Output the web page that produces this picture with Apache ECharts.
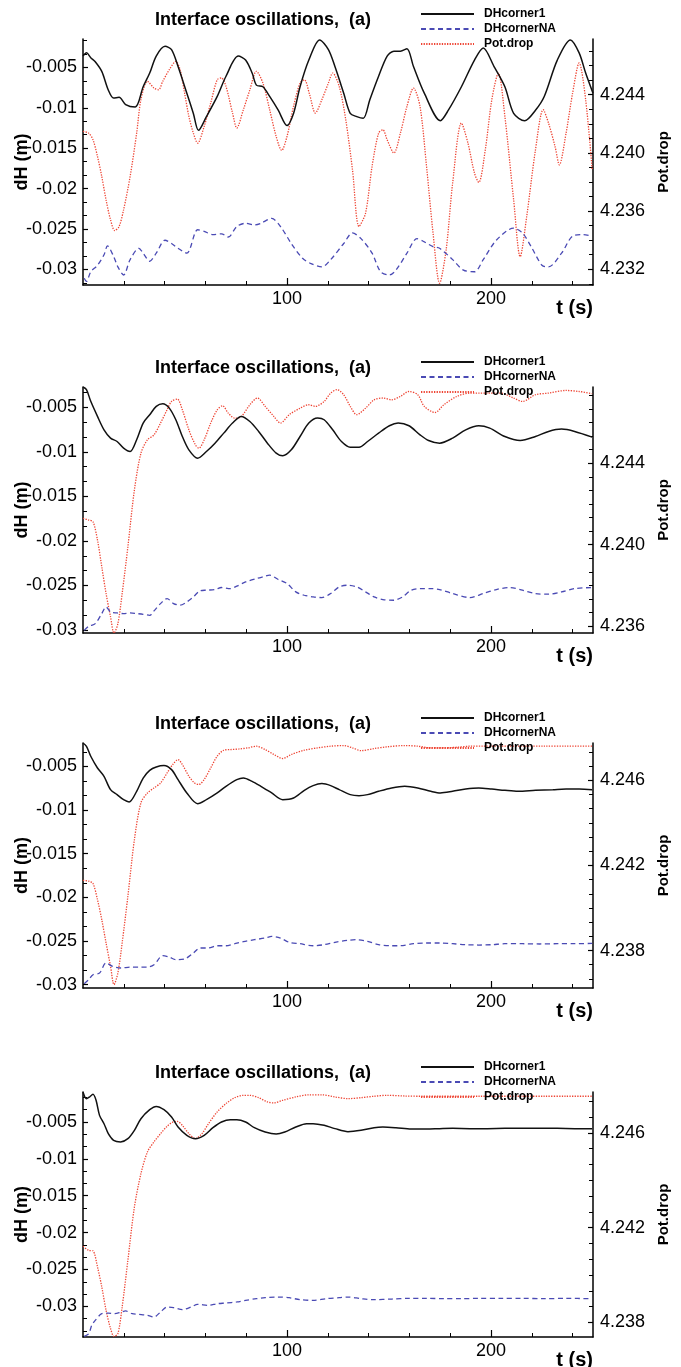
<!DOCTYPE html>
<html>
<head>
<meta charset="utf-8">
<script src="https://cdn.jsdelivr.net/npm/echarts@6/dist/echarts.min.js"></script>
<style>
html,body{margin:0;padding:0;background:#fff;}
#chart{width:681px;height:1367px;}
</style>
</head>
<body>
<div id="chart"></div>
<script>
// ---------------- DATA ----------------
const seriesNames = ['DHcorner1', 'DHcornerNA', 'Pot.drop'];
const titleText = 'Interface oscillations,  (a)';
const xMajorTicks = [100, 200];
const xMinorTicks = [20, 40, 60, 80, 120, 140, 160, 180, 220, 240];
const leftTickLabels = [-0.005, -0.01, -0.015, -0.02, -0.025, -0.03];
const p1RightLabels = [4.232, 4.236, 4.240, 4.244];
const p2RightLabels = [4.236, 4.240, 4.244];
const p3RightLabels = [4.238, 4.242, 4.246];
const p4RightLabels = [4.238, 4.242, 4.246];

// axis ranges [min, max]
const p1Left = [-0.03194, -0.00149], p1Right = [4.23092, 4.24783];
const p2Left = [-0.03034, -0.00271], p2Right = [4.23567, 4.24774];
const p3Left = [-0.03038, -0.00233], p3Right = [4.23624, 4.24775];
const p4Left = [-0.03416, -0.00093], p4Right = [4.23738, 4.24773];

// Panel 1
const p1Black = [[0,-0.0036],[1.7,-0.0032],[3.8,-0.0038],[6,-0.0043],[9.2,-0.0055],[12.4,-0.0078],[15,-0.0088],[17.7,-0.0087],[20.9,-0.0096],[25.6,-0.0099],[29.5,-0.0074],[32.7,-0.0057],[35.9,-0.0036],[40.2,-0.0024],[43.4,-0.0028],[46.6,-0.0049],[50.9,-0.0082],[54.1,-0.0107],[56.6,-0.0128],[60.5,-0.0111],[65.8,-0.0086],[70.1,-0.0061],[76.1,-0.0036],[79.7,-0.0041],[82.9,-0.0057],[85,-0.0072],[88.2,-0.0074],[91.5,-0.0086],[95.7,-0.0103],[100,-0.0122],[103.2,-0.0107],[106.4,-0.0074],[110.7,-0.0041],[116,-0.0016],[120.3,-0.0028],[123.5,-0.0049],[127.8,-0.0082],[131,-0.0107],[134.2,-0.0111],[137.4,-0.0113],[140.6,-0.009],[144.9,-0.0061],[149.1,-0.0036],[152.4,-0.003],[155.6,-0.003],[158.8,-0.0027],[162,-0.0049],[167.3,-0.0082],[175.2,-0.0116],[179.1,-0.0103],[185.5,-0.0074],[191.9,-0.0041],[196.2,-0.0026],[201.5,-0.0049],[206.8,-0.0074],[211.1,-0.0107],[216.5,-0.0116],[221.8,-0.0103],[226.1,-0.0086],[232.5,-0.0041],[238.9,-0.0016],[243.2,-0.0032],[246.4,-0.0057],[250,-0.0082]];
const p1Blue = [[0.6,-0.0311],[1.7,-0.0315],[3.8,-0.0303],[7.1,-0.0295],[10.3,-0.0282],[12,-0.0271],[15,-0.0284],[17.1,-0.0297],[19.9,-0.0307],[23.1,-0.0288],[27.4,-0.0274],[29.5,-0.028],[32.7,-0.029],[35.9,-0.028],[40.2,-0.0264],[43.4,-0.0268],[46.6,-0.0274],[50.9,-0.028],[56.2,-0.0251],[59.4,-0.0253],[63.7,-0.0257],[67.9,-0.0256],[71.2,-0.026],[75.4,-0.0247],[79.7,-0.0243],[84,-0.0245],[87.2,-0.0243],[92.5,-0.0237],[96.8,-0.0247],[102.1,-0.0268],[107.5,-0.0286],[111.8,-0.0293],[117.1,-0.0297],[121.4,-0.0288],[127.8,-0.0268],[132.1,-0.0255],[136.3,-0.0262],[141.7,-0.028],[145.9,-0.0303],[150.2,-0.0307],[153.4,-0.0301],[158.8,-0.028],[163.7,-0.0262],[167.3,-0.0266],[171.6,-0.0272],[174.8,-0.0274],[181.2,-0.0288],[186.5,-0.0301],[191.9,-0.0303],[196.2,-0.0288],[202.6,-0.0264],[211.1,-0.0249],[215.4,-0.0255],[219.7,-0.0272],[225,-0.0295],[228.2,-0.0297],[234.6,-0.028],[240,-0.0259],[245.3,-0.0257],[249.6,-0.0259]];
const p1Red = [[0,4.24148],[2.8,4.24136],[4.9,4.2409],[7.1,4.23976],[9.2,4.23838],[11.3,4.23677],[13.5,4.2354],[15.6,4.23466],[17.7,4.23494],[19.9,4.23609],[23.1,4.23838],[26.3,4.24136],[28.4,4.24366],[31.6,4.24492],[34.8,4.24446],[37,4.24434],[39.1,4.24492],[42.3,4.24572],[45.5,4.24629],[47.6,4.24572],[49.8,4.24411],[51.9,4.24251],[54.1,4.24136],[56.2,4.24067],[59.4,4.24182],[62.6,4.24343],[65.8,4.24503],[67.9,4.24515],[70.1,4.24457],[73.3,4.24274],[75.4,4.24171],[78.6,4.24297],[81.8,4.24434],[85,4.24561],[88.2,4.2448],[91.5,4.24297],[94.7,4.24113],[97.4,4.24017],[100,4.24113],[103.2,4.2432],[106.4,4.2448],[108.5,4.24503],[111.1,4.244],[113.9,4.24274],[117.1,4.24366],[120.3,4.2448],[122.4,4.24549],[125.6,4.24457],[128.8,4.24228],[132.1,4.23884],[135.3,4.23494],[138.5,4.23586],[141.7,4.23907],[144.9,4.24136],[147,4.24159],[149.1,4.2409],[152.4,4.23999],[155.6,4.24136],[158.8,4.2432],[162,4.24446],[165.2,4.2432],[168.4,4.23907],[171.6,4.23448],[174.8,4.23104],[178,4.23333],[181.2,4.23792],[185.5,4.24205],[188.7,4.24067],[191.9,4.23861],[194,4.23797],[197.2,4.24021],[200.4,4.24366],[203.6,4.24549],[206.8,4.24251],[211.1,4.23677],[214.3,4.23287],[217.5,4.23563],[221.8,4.24021],[225.6,4.24297],[228.2,4.24205],[231.4,4.24044],[233.5,4.23918],[236.8,4.24136],[240,4.24411],[243.2,4.24618],[246.4,4.24366],[249.6,4.23884]];

// Panel 2
const p2Black = [[0,-0.00271],[1.7,-0.00301],[3.8,-0.00432],[7.1,-0.00601],[10.3,-0.00752],[13.5,-0.00845],[16.7,-0.00883],[19.9,-0.00958],[23.1,-0.00996],[26.3,-0.00864],[29.5,-0.00676],[32.7,-0.00583],[35.9,-0.00489],[39.1,-0.00459],[42.3,-0.00508],[45.5,-0.00639],[48.7,-0.00827],[51.9,-0.00977],[56.2,-0.01071],[60.5,-0.00996],[64.7,-0.00902],[69,-0.00789],[73.3,-0.00676],[77.6,-0.00601],[81.8,-0.00658],[86.1,-0.0077],[90.4,-0.00902],[94.7,-0.01014],[97.9,-0.01044],[102.1,-0.00977],[106.4,-0.00827],[110.7,-0.00676],[115,-0.0062],[118.2,-0.00639],[122.4,-0.00752],[126.7,-0.00883],[131,-0.00947],[135.3,-0.00947],[139.5,-0.00883],[144.9,-0.00789],[150.2,-0.00706],[154.5,-0.00676],[159.8,-0.00706],[165.2,-0.00808],[169.4,-0.00872],[174.8,-0.00902],[181.2,-0.00845],[187.6,-0.00752],[194,-0.00706],[199.4,-0.00733],[206.8,-0.00827],[214.3,-0.00872],[221.8,-0.00827],[228.2,-0.0077],[234.6,-0.00744],[241,-0.0077],[249.6,-0.00834]];
const p2Blue = [[0.6,-0.03004],[2.8,-0.02959],[6,-0.02929],[9.2,-0.02816],[11.3,-0.02741],[13.5,-0.02797],[16.7,-0.02809],[19.9,-0.02816],[23.1,-0.02809],[26.3,-0.02816],[29.5,-0.02824],[32.7,-0.02835],[34.8,-0.02786],[38,-0.02704],[41.2,-0.02647],[44.4,-0.02704],[47.6,-0.02722],[50.9,-0.02685],[54.1,-0.02629],[57.3,-0.02561],[60.5,-0.02553],[64.7,-0.02546],[67.9,-0.02523],[72.2,-0.02535],[75.4,-0.02508],[79.7,-0.0246],[85,-0.02422],[88.2,-0.02403],[91.5,-0.02385],[95.7,-0.02433],[100,-0.02478],[104.3,-0.02572],[108.5,-0.0261],[112.8,-0.02629],[117.1,-0.02636],[121.4,-0.02591],[125.6,-0.02516],[129.9,-0.02497],[134.2,-0.02516],[138.5,-0.02572],[142.7,-0.02629],[147,-0.02659],[152.4,-0.02666],[156.6,-0.02629],[160.9,-0.02553],[165.2,-0.02535],[170.5,-0.02535],[174.8,-0.02546],[181.2,-0.02591],[189.7,-0.02636],[196.2,-0.02591],[202.6,-0.02546],[209,-0.02523],[215.4,-0.02553],[221.8,-0.02591],[228.2,-0.02598],[234.6,-0.02572],[241,-0.02535],[249.6,-0.02523]];
const p2Red = [[0,4.2413],[2.8,4.24121],[4.9,4.24113],[7.1,4.24023],[9.2,4.23892],[11.3,4.23761],[13.5,4.23646],[15.2,4.23567],[17.1,4.23613],[19.2,4.23761],[22,4.2399],[25.2,4.24269],[28.4,4.24449],[31.6,4.24515],[34.8,4.24539],[38,4.24597],[41.2,4.24662],[43.4,4.24703],[46.2,4.24715],[48.7,4.24662],[51.9,4.24564],[55.1,4.2449],[56.8,4.24474],[59.4,4.24515],[62.6,4.24597],[65.8,4.24662],[68.4,4.24682],[71.2,4.24646],[74.4,4.24621],[77.6,4.24629],[81.8,4.24687],[85.5,4.2472],[89.3,4.24679],[93.6,4.24629],[96.8,4.24597],[101.1,4.24638],[106.4,4.2467],[110.7,4.24687],[113.9,4.24679],[118.2,4.24703],[121.4,4.24744],[124.6,4.24761],[127.8,4.24736],[131,4.24679],[134.2,4.24638],[138.5,4.2467],[142.7,4.24711],[147,4.2472],[151.3,4.24711],[155.6,4.24728],[159.8,4.24752],[164.1,4.24736],[167.3,4.24679],[172.6,4.24649],[176.9,4.24687],[183.3,4.24728],[189.7,4.24744],[194,4.24744],[198.3,4.24744],[204.7,4.24744],[211.1,4.2472],[215.4,4.24703],[221.8,4.24736],[228.2,4.24744],[236.8,4.24757],[243.2,4.24752],[249.6,4.24741]];

// Panel 3
const p3Black = [[0,-0.00233],[1.7,-0.00271],[3.8,-0.00385],[7.1,-0.00519],[10.3,-0.00615],[13.5,-0.00767],[16.7,-0.00824],[19.9,-0.00882],[22.6,-0.00908],[26.3,-0.00786],[29.5,-0.00634],[32.7,-0.00546],[35.9,-0.00508],[39.7,-0.00492],[43.4,-0.00538],[46.6,-0.00653],[50.9,-0.00805],[56.2,-0.00928],[60.5,-0.00882],[65.8,-0.00805],[70.1,-0.00729],[75.4,-0.00653],[78.6,-0.00634],[82.9,-0.00672],[87.2,-0.00729],[92.5,-0.00805],[97.9,-0.00882],[103.2,-0.00863],[108.5,-0.00775],[112.8,-0.00721],[117.1,-0.00698],[121.4,-0.00721],[125.6,-0.00767],[131,-0.00824],[135.3,-0.00836],[139.5,-0.00824],[144.9,-0.00786],[151.3,-0.00748],[157.7,-0.00729],[164.1,-0.00748],[170.5,-0.00786],[175.2,-0.00805],[181.2,-0.00786],[187.6,-0.0076],[194,-0.00748],[200.4,-0.0076],[206.8,-0.00775],[213.2,-0.00786],[221.8,-0.00775],[230.3,-0.00767],[236.8,-0.0076],[243.2,-0.0076],[249.6,-0.00767]];
const p3Blue = [[0.6,-0.02989],[2.8,-0.02943],[4.9,-0.02886],[8.1,-0.02867],[11.3,-0.02752],[14.5,-0.0279],[18.8,-0.02809],[23.1,-0.02798],[27.4,-0.02798],[31.6,-0.02798],[34.8,-0.02771],[39.1,-0.02668],[42.3,-0.02683],[45.5,-0.02714],[49.8,-0.02706],[54.1,-0.02638],[57.3,-0.0258],[61.5,-0.0258],[65.8,-0.02554],[70.1,-0.02554],[74.4,-0.02531],[78.6,-0.02508],[84,-0.02485],[89.3,-0.02466],[92.5,-0.02447],[96.8,-0.02466],[101.1,-0.02515],[106.4,-0.02531],[112.8,-0.02554],[118.2,-0.02542],[123.5,-0.02515],[129.9,-0.02492],[134.2,-0.02485],[139.5,-0.02504],[144.9,-0.02542],[151.3,-0.02554],[155.6,-0.02554],[162,-0.02531],[168.4,-0.02523],[174.8,-0.02523],[181.2,-0.02531],[187.6,-0.02542],[194,-0.02546],[200.4,-0.02542],[206.8,-0.02531],[215.4,-0.02531],[223.9,-0.02534],[232.5,-0.02531],[241,-0.02531],[249.6,-0.02527]];
const p3Red = [[0,4.2413],[2.8,4.24126],[4.9,4.24115],[7.1,4.24039],[9.2,4.23945],[11.3,4.23836],[13.5,4.23726],[15.2,4.2364],[17.1,4.23695],[19.2,4.23836],[22,4.24055],[25.2,4.24321],[28.4,4.24494],[31.6,4.2454],[34.8,4.24564],[38,4.24587],[41.2,4.24634],[44,4.24674],[46.6,4.24697],[48.7,4.24674],[51.9,4.24619],[54.7,4.24587],[56.8,4.2458],[59.4,4.24603],[62.6,4.24658],[65.8,4.24713],[69,4.24741],[72.2,4.24744],[76.5,4.24747],[80.8,4.24752],[85,4.2476],[89.3,4.24744],[93.6,4.24721],[97.9,4.24702],[102.1,4.24721],[108.5,4.24741],[115,4.24752],[121.4,4.2476],[127.8,4.24763],[132.1,4.24752],[136.3,4.24739],[142.7,4.24749],[149.1,4.24757],[157.7,4.24763],[164.1,4.2476],[170.5,4.24752],[176.9,4.24752],[183.3,4.24755],[189.7,4.2476],[196.2,4.2476],[204.7,4.2476],[215.4,4.2476],[226.1,4.2476],[236.8,4.2476],[249.6,4.2476]];

// Panel 4
const p4Black = [[0,-0.00093],[1.7,-0.00184],[3.2,-0.00161],[4.9,-0.00125],[6.4,-0.00206],[8.1,-0.0041],[10.3,-0.00523],[12.4,-0.00658],[15,-0.00749],[18.4,-0.00771],[22,-0.00726],[25.2,-0.00613],[28.4,-0.00455],[32.7,-0.00333],[35.9,-0.00288],[39.7,-0.00333],[43.4,-0.00432],[46.6,-0.00568],[50.9,-0.00681],[55.1,-0.00726],[59.4,-0.00681],[63.7,-0.00577],[67.9,-0.005],[72.2,-0.00468],[75.4,-0.00468],[79.7,-0.005],[84,-0.00577],[89.3,-0.00636],[94.7,-0.00663],[98.9,-0.00636],[104.3,-0.00568],[109.6,-0.00523],[112.8,-0.00523],[118.2,-0.00545],[123.5,-0.0059],[129.9,-0.00631],[136.3,-0.00613],[142.7,-0.00577],[147,-0.00568],[153.4,-0.00577],[160.9,-0.00595],[168.4,-0.00595],[174.8,-0.0059],[181.2,-0.00586],[189.7,-0.0059],[198.3,-0.0059],[206.8,-0.00586],[215.4,-0.00586],[223.9,-0.00586],[232.5,-0.00586],[241,-0.0059],[249.6,-0.0059]];
const p4Blue = [[0.6,-0.03407],[2.8,-0.03371],[4.3,-0.03258],[6,-0.0319],[9.2,-0.031],[12.4,-0.03091],[15.6,-0.031],[18.8,-0.03077],[20.9,-0.03063],[24.1,-0.031],[27.4,-0.03109],[31.6,-0.03122],[34.8,-0.03145],[38,-0.03077],[41.2,-0.03009],[44.4,-0.03018],[48.7,-0.03045],[53,-0.03009],[56.2,-0.02973],[61.5,-0.02987],[65.8,-0.02964],[70.1,-0.02955],[75.4,-0.02941],[79.7,-0.02919],[85,-0.02896],[89.3,-0.02883],[95.7,-0.02874],[101.1,-0.02883],[106.4,-0.0291],[112.8,-0.02919],[119.2,-0.02896],[125.6,-0.02883],[129.9,-0.02874],[136.3,-0.02896],[142.7,-0.0291],[151.3,-0.02901],[159.8,-0.02892],[168.4,-0.02892],[176.9,-0.02896],[185.5,-0.02896],[194,-0.02892],[204.7,-0.02892],[215.4,-0.02892],[226.1,-0.02896],[236.8,-0.02892],[249.6,-0.02896]];
const p4Red = [[0,4.24121],[2.8,4.24104],[4.9,4.24102],[7.1,4.24034],[9.2,4.2395],[11.3,4.23851],[13.5,4.23774],[15.2,4.23741],[17.1,4.23752],[19.2,4.23865],[22,4.24062],[25.2,4.24287],[28.4,4.24428],[31.6,4.2452],[34.8,4.24562],[38,4.24597],[41.2,4.24628],[44,4.24646],[46.2,4.24649],[48.7,4.24632],[51.9,4.24597],[55.1,4.24576],[58.3,4.24597],[61.5,4.24639],[65.8,4.24689],[70.1,4.24724],[74.4,4.24749],[78.6,4.24759],[81.8,4.24759],[86.1,4.24749],[90.4,4.24731],[93.6,4.24727],[97.9,4.24738],[104.3,4.24752],[110.7,4.24761],[117.1,4.24761],[123.5,4.24752],[129.9,4.24745],[136.3,4.24749],[142.7,4.24755],[149.1,4.24759],[157.7,4.24756],[166.2,4.24755],[174.8,4.24755],[183.3,4.24755],[194,4.24755],[204.7,4.24755],[215.4,4.24755],[226.1,4.24755],[236.8,4.24755],[249.6,4.24755]];

// ---------------- CHART ----------------
const panels = [
  {black:p1Black, blue:p1Blue, red:p1Red, left:p1Left, right:p1Right, rLabels:p1RightLabels, rStep:0.001},
  {black:p2Black, blue:p2Blue, red:p2Red, left:p2Left, right:p2Right, rLabels:p2RightLabels, rStep:0.002/3},
  {black:p3Black, blue:p3Blue, red:p3Red, left:p3Left, right:p3Right, rLabels:p3RightLabels, rStep:0.002/3},
  {black:p4Black, blue:p4Blue, red:p4Red, left:p4Left, right:p4Right, rLabels:p4RightLabels, rStep:0.002/3}
];
const layout = [
  {top:39, height:246},
  {top:387, height:246},
  {top:743, height:245},
  {top:1092, height:245}
];
const PLOT_LEFT = 83, PLOT_RIGHT_EDGE = 593, W = 681;
const FONT = '"Liberation Sans", Arial, sans-serif';

function ticksBetween(range, step, base) {
  const out = [];
  for (let k = -200; k <= 200; k++) {
    const v = +(base + k * step).toFixed(7);
    if (v > range[0] + 1e-9 && v < range[1] - 1e-9) out.push(v);
  }
  return out;
}

const grid = [], xAxis = [], yAxis = [], series = [], legend = [], title = [];
const lineCol = '#000';

panels.forEach((p, i) => {
  const L = layout[i];
  const gMain = 2 * i, gMinor = 2 * i + 1;
  const g = {left: PLOT_LEFT, right: W - PLOT_RIGHT_EDGE, top: L.top, height: L.height,
    containLabel: false, outerBoundsMode: 'none'};
  grid.push(Object.assign({}, g), Object.assign({}, g));
  // main x axis (index 2i)
  xAxis.push({type:'value', gridIndex:gMain, position:'bottom', min:0, max:250, splitLine:{show:false},
    axisLine:{show:true, onZero:false, lineStyle:{color:lineCol, width:1.5}},
    axisTick:{show:true, inside:true, length:7, customValues:xMajorTicks, lineStyle:{color:lineCol, width:1.2}},
    axisLabel:{show:true, customValues:xMajorTicks, margin:5, color:'#000', fontSize:18, fontFamily:FONT}
  });
  // minor x ticks (index 2i+1)
  xAxis.push({type:'value', gridIndex:gMinor, position:'bottom', min:0, max:250, splitLine:{show:false},
    axisLine:{show:false, onZero:false},
    axisTick:{show:true, inside:true, length:4, customValues:xMinorTicks, lineStyle:{color:lineCol, width:1}},
    axisLabel:{show:false}
  });
  const leftMinor = ticksBetween(p.left, 0.005/3, 0);
  const rightMinor = ticksBetween(p.right, p.rStep, 4.24);
  // left main (4i)
  yAxis.push({type:'value', gridIndex:gMain, position:'left', min:p.left[0], max:p.left[1], splitLine:{show:false},
    axisLine:{show:true, onZero:false, lineStyle:{color:lineCol, width:1.5}},
    axisTick:{show:true, inside:true, length:5, customValues:leftTickLabels, lineStyle:{color:lineCol, width:1.2}},
    axisLabel:{show:true, customValues:leftTickLabels, margin:6, color:'#000', fontSize:18, fontFamily:FONT,
      formatter: v => String(+v.toFixed(4))},
    name:'dH (m)', nameLocation:'middle', nameRotate:90, nameGap:52, nameMoveOverlap:false,
    nameTextStyle:{color:'#000', fontSize:18, fontWeight:'bold', fontFamily:FONT}
  });
  // right main (4i+1)
  yAxis.push({type:'value', gridIndex:gMain, position:'right', min:p.right[0], max:p.right[1], splitLine:{show:false},
    axisLine:{show:true, onZero:false, lineStyle:{color:lineCol, width:1.5}},
    axisTick:{show:true, inside:true, length:5, customValues:p.rLabels, lineStyle:{color:lineCol, width:1.2}},
    axisLabel:{show:true, customValues:p.rLabels, margin:7, color:'#000', fontSize:18, fontFamily:FONT,
      formatter: v => v.toFixed(3)},
    name:'Pot.drop', nameLocation:'middle', nameRotate:90, nameGap:60,
    nameTextStyle:{color:'#000', fontSize:15, fontWeight:'bold', fontFamily:FONT}
  });
  // left minor (4i+2)
  yAxis.push({type:'value', gridIndex:gMinor, position:'left', min:p.left[0], max:p.left[1], splitLine:{show:false},
    axisLine:{show:false, onZero:false}, axisLabel:{show:false},
    axisTick:{show:true, inside:true, length:4, customValues:leftMinor, lineStyle:{color:lineCol, width:1}}
  });
  // right minor (4i+3)
  yAxis.push({type:'value', gridIndex:gMinor, position:'right', min:p.right[0], max:p.right[1], splitLine:{show:false},
    axisLine:{show:false, onZero:false}, axisLabel:{show:false},
    axisTick:{show:true, inside:true, length:4, customValues:rightMinor, lineStyle:{color:lineCol, width:1}}
  });
  const xi = 2 * i, yl = 4 * i, yr = 4 * i + 1;
  series.push({name:seriesNames[2], type:'line', xAxisIndex:xi, yAxisIndex:yr, data:p.red, symbol:'none', smooth:0.3,
    lineStyle:{color:'#ee4433', width:1.3, type:[1.3,1.3]}, itemStyle:{color:'#ee4433'}, z:2});
  series.push({name:seriesNames[1], type:'line', xAxisIndex:xi, yAxisIndex:yl, data:p.blue, symbol:'none', smooth:0.3,
    lineStyle:{color:'#4a4ab4', width:1.3, type:[5,3.5]}, itemStyle:{color:'#4a4ab4'}, z:3});
  series.push({name:seriesNames[0], type:'line', xAxisIndex:xi, yAxisIndex:yl, data:p.black, symbol:'none', smooth:0.3,
    lineStyle:{color:'#111', width:1.5}, itemStyle:{color:'#111'}, z:4});

  legend.push({orient:'vertical', left:420, top:L.top - 32, padding:0, itemWidth:53, itemHeight:14, itemGap:1,
    selectedMode:false, data:seriesNames,
    itemStyle:{opacity:0, borderWidth:0},
    textStyle:{color:'#000', fontSize:12, fontWeight:'bold', fontFamily:FONT, lineHeight:14, padding:[0,0,0,5]}});
  title.push({text:titleText, left:263, textAlign:'center', top:L.top - 28, padding:0,
    textStyle:{color:'#000', fontSize:18, fontWeight:'bold', fontFamily:FONT}});
  title.push({text:'t (s)', right:W - PLOT_RIGHT_EDGE, top:L.top + L.height + 13, padding:0,
    textStyle:{color:'#000', fontSize:20, fontWeight:'bold', fontFamily:FONT}});
});

const chart = echarts.init(document.getElementById('chart'), null, {renderer:'canvas'});
chart.setOption({animation:false, backgroundColor:'#fff', grid, xAxis, yAxis, series, legend, title});
</script>
</body>
</html>
